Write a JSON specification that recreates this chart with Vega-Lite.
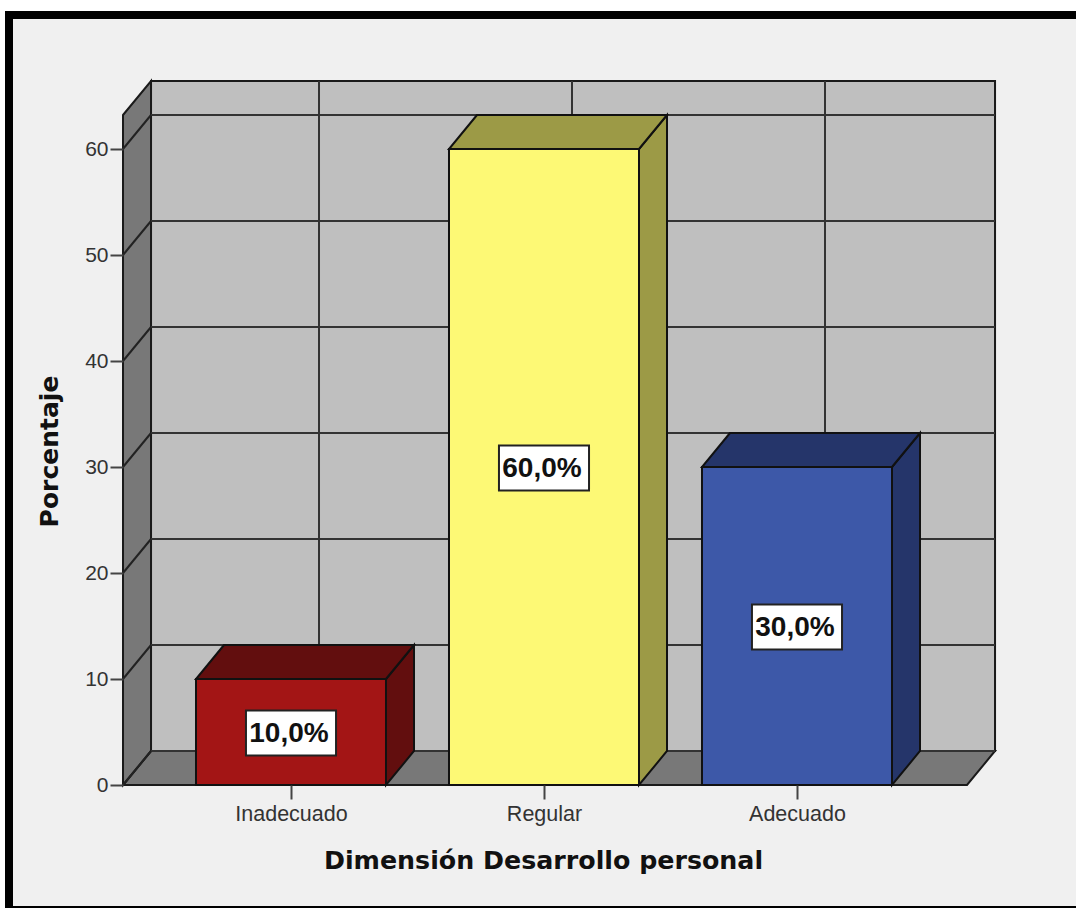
{
"$schema":"https://vega.github.io/schema/vega-lite/v6.json",
"width":1076,"height":909,"padding":0,"autosize":{"type":"none"},"background":"#ffffff",
"config":{"view":{"stroke":null},"font":"Liberation Sans"},
"datasets":{
"bordes":[{"k":0},{"k":1}],
"marcas":[{"valor":10},{"valor":20},{"valor":30},{"valor":40},{"valor":50},{"valor":60},{"valor":0}]
},
"data":{"values":[
{"categoria":"Inadecuado","porcentaje":10},
{"categoria":"Regular","porcentaje":60},
{"categoria":"Adecuado","porcentaje":30}
]},
"transform":[{"calculate":"indexof(['Inadecuado','Regular','Adecuado'],datum.categoria)+1","as":"pos"}],
"resolve":{"scale":{"fill":"independent"}},
"layer":[
{"mark":{"type":"rect","fill":"#000000"},
 "encoding":{
  "x":{"datum":-0.1304,"type":"quantitative","scale":{"domain":[-0.1502,4.1028],"nice":false,"zero":false},
   "axis":{"values":[1,2,3],"labelExpr":"['Inadecuado','Regular','Adecuado'][datum.value-1]","grid":false,"domain":false,"offset":-124,"zindex":1,
    "tickSize":14,"tickWidth":2,"tickColor":"#444444","labelFontSize":21.5,"labelColor":"#333333","labelPadding":4,"labelFont":"Liberation Sans",
    "title":"Dimensión Desarrollo personal","titleFontSize":25.3,"titleFontWeight":"bold","titleColor":"#111111","titleFont":"DejaVu Sans","titleX":543,"titleY":83,"titleAlign":"center","titleBaseline":"alphabetic"}},
  "x2":{"datum":4.1028},
  "y":{"datum":73.02,"type":"quantitative","scale":{"domain":[-11.698,74.057],"nice":false,"zero":false},
   "axis":{"values":[0,10,20,30,40,50,60],"grid":false,"domain":false,"offset":-123,"zindex":1,
    "tickSize":13,"tickWidth":2,"tickColor":"#444444","labelFontSize":21,"labelColor":"#333333","labelPadding":2,"labelFont":"Liberation Sans",
    "title":"Porcentaje","titleFontSize":25,"titleFontWeight":"bold","titleColor":"#111111","titleFont":"DejaVu Sans","titleX":-66,"titleY":451,"titleAlign":"center","titleBaseline":"alphabetic"}},
  "y2":{"datum":-11.6}}},
{"mark":{"type":"rect","fill":"#f0f0f0"},
 "encoding":{"x":{"datum":-0.0988,"type":"quantitative"},"x2":{"datum":4.1028},"y":{"datum":72.26,"type":"quantitative"},"y2":{"datum":-11.415}}},
{"data":{"name":"bordes"},
 "transform":[{"calculate":"0.336+datum.k*0.1107","as":"xi"},{"calculate":"3.672+datum.k*0.1107","as":"xd"},{"calculate":"datum.k*3.208","as":"yv"}],
 "mark":{"type":"area","orient":"horizontal","fill":"#787878","stroke":"#1a1a1a","strokeWidth":2},
 "encoding":{"y":{"field":"yv","type":"quantitative"},"x":{"field":"xi","type":"quantitative","stack":null},"x2":{"field":"xd"}}},
{"mark":{"type":"rect","fill":"#bfbfbf","stroke":"#1a1a1a","strokeWidth":2},
 "encoding":{"x":{"datum":0.4467,"type":"quantitative"},"x2":{"datum":3.7827},"y":{"datum":3.208,"type":"quantitative"},"y2":{"datum":66.415}}},
{"data":{"name":"bordes"},
 "transform":[{"calculate":"0.336+datum.k*0.1107","as":"xi"},{"calculate":"datum.k*3.208","as":"bajo"},{"calculate":"63.208+datum.k*3.208","as":"alto"}],
 "mark":{"type":"area","fill":"#787878","stroke":"#1a1a1a","strokeWidth":2},
 "encoding":{"x":{"field":"xi","type":"quantitative"},"y":{"field":"alto","type":"quantitative","stack":null},"y2":{"field":"bajo"}}},
{"data":{"name":"marcas"},
 "transform":[{"calculate":"datum.valor+3.208","as":"atras"}],
 "mark":{"type":"rule","color":"#333333","strokeWidth":2},
 "encoding":{"x":{"datum":0.4467,"type":"quantitative"},"x2":{"datum":3.7827},"y":{"field":"atras","type":"quantitative"}}},
{"data":{"name":"marcas"},
 "transform":[{"calculate":"datum.valor+3.208","as":"atras"}],
 "mark":{"type":"rule","color":"#222222","strokeWidth":2},
 "encoding":{"x":{"datum":0.336,"type":"quantitative"},"x2":{"datum":0.4467},"y":{"field":"valor","type":"quantitative"},"y2":{"field":"atras"}}},
{"transform":[{"calculate":"datum.pos+0.1107","as":"xg"}],
 "mark":{"type":"rule","color":"#333333","strokeWidth":2},
 "encoding":{"x":{"field":"xg","type":"quantitative"},"y":{"datum":3.208,"type":"quantitative"},"y2":{"datum":66.415}}},
{"transform":[{"calculate":"[0,1]","as":"k"},{"flatten":["k"]},
  {"calculate":"datum.pos+0.3755+datum.k*0.1107","as":"xs"},{"calculate":"datum.k*3.208","as":"bajo"},{"calculate":"datum.porcentaje+datum.k*3.208","as":"alto"}],
 "mark":{"type":"area","stroke":"#111111","strokeWidth":2},
 "encoding":{"x":{"field":"xs","type":"quantitative"},"y":{"field":"alto","type":"quantitative","stack":null},"y2":{"field":"bajo"},
  "fill":{"field":"categoria","type":"nominal","legend":null,"scale":{"domain":["Inadecuado","Regular","Adecuado"],"range":["#620e0e","#9c9a46","#25356a"]}}}},
{"transform":[{"calculate":"[0,1]","as":"k"},{"flatten":["k"]},
  {"calculate":"datum.pos-0.3755+datum.k*0.1107","as":"xi"},{"calculate":"datum.pos+0.3755+datum.k*0.1107","as":"xd"},{"calculate":"datum.porcentaje+datum.k*3.208","as":"yv"}],
 "mark":{"type":"area","orient":"horizontal","stroke":"#111111","strokeWidth":2},
 "encoding":{"y":{"field":"yv","type":"quantitative"},"x":{"field":"xi","type":"quantitative","stack":null},"x2":{"field":"xd"},
  "fill":{"field":"categoria","type":"nominal","legend":null,"scale":{"domain":["Inadecuado","Regular","Adecuado"],"range":["#620e0e","#9c9a46","#25356a"]}}}},
{"transform":[{"calculate":"datum.pos-0.3755","as":"xi"},{"calculate":"datum.pos+0.3755","as":"xd"}],
 "mark":{"type":"rect","stroke":"#111111","strokeWidth":2},
 "encoding":{"x":{"field":"xi","type":"quantitative"},"x2":{"field":"xd"},"y":{"field":"porcentaje","type":"quantitative"},"y2":{"datum":0},
  "fill":{"field":"categoria","type":"nominal","legend":null,"scale":{"domain":["Inadecuado","Regular","Adecuado"],"range":["#a31515","#fdf975","#3d58a8"]}}}},
{"transform":[{"calculate":"datum.pos-0.178","as":"xi"},{"calculate":"datum.pos+0.178","as":"xd"},{"calculate":"datum.porcentaje/2+2.02","as":"ya"},{"calculate":"datum.porcentaje/2-2.22","as":"yb"}],
 "mark":{"type":"rect","fill":"#ffffff","stroke":"#222222","strokeWidth":2},
 "encoding":{"x":{"field":"xi","type":"quantitative"},"x2":{"field":"xd"},"y":{"field":"ya","type":"quantitative"},"y2":{"field":"yb"}}},
{"transform":[{"calculate":"replace(format(datum.porcentaje,'.1f'),'.',',')+'%'","as":"etiqueta"},{"calculate":"datum.porcentaje/2-0.2","as":"medio"},{"calculate":"datum.pos-0.008","as":"xt"}],
 "mark":{"type":"text","font":"Liberation Sans","fontWeight":"bold","fontSize":28,"fill":"#111111","baseline":"middle","align":"center"},
 "encoding":{"x":{"field":"xt","type":"quantitative"},"y":{"field":"medio","type":"quantitative"},"text":{"field":"etiqueta","type":"nominal"}}}
]
}
